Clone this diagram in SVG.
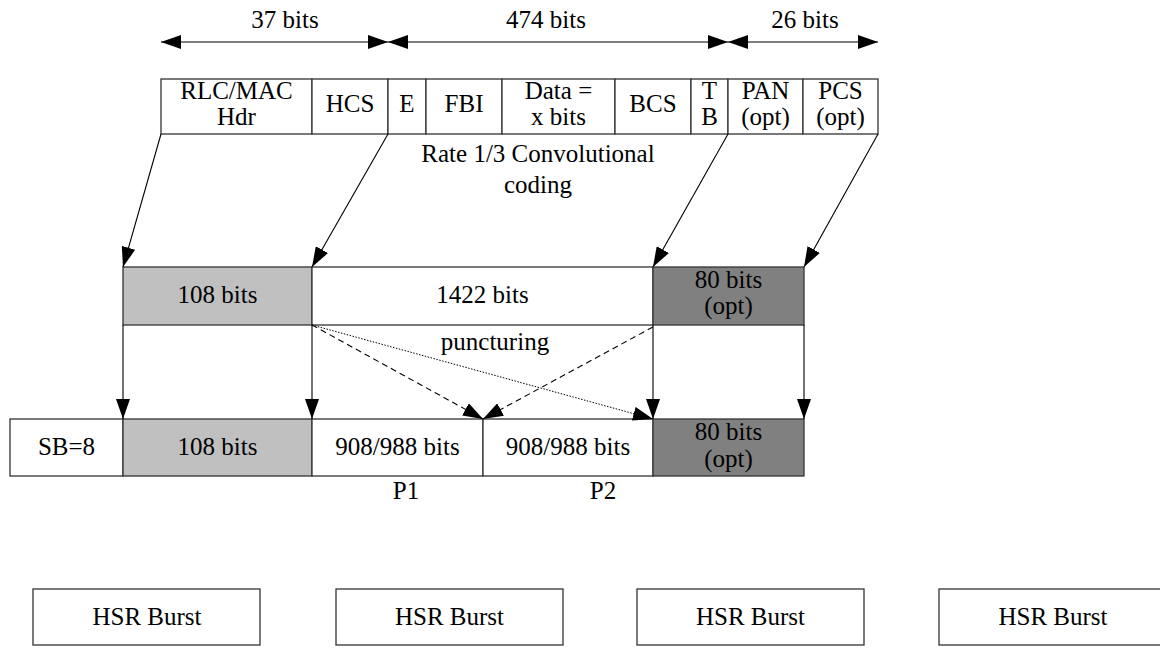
<svg xmlns="http://www.w3.org/2000/svg" width="1160" height="653" viewBox="0 0 1160 653">
<style>
text{font-family:"Liberation Serif",Tinos,"Times New Roman",Times,"Nimbus Roman","Nimbus Roman No9 L",FreeSerif,"DejaVu Serif","Noto Serif",serif;font-size:25px;fill:#000;text-anchor:middle}
.box{stroke:#333;stroke-width:1.3;fill:#fff}
.lg{fill:#c0c0c0}
.dg{fill:#808080}
.ln{stroke:#000;stroke-width:1.1;fill:none}
.dash{stroke-dasharray:6 4}
.dot{stroke-dasharray:1.5 1.5;stroke-width:1}
</style>
<defs>
<marker id="ah" markerUnits="userSpaceOnUse" markerWidth="20" markerHeight="14" refX="20" refY="7" orient="auto-start-reverse" viewBox="0 0 20 14">
<path d="M0,0 L20,7 L0,14 z" fill="#000"/>
</marker>
</defs>
<g id="dims">
<text x="285" y="28">37 bits</text>
<text x="546" y="28">474 bits</text>
<text x="805" y="28">26 bits</text>
</g>
<g id="top-row">
<rect class="box" x="161" y="79" width="151" height="55"/><text x="236.5" y="99">RLC/MAC</text><text x="236.5" y="125">Hdr</text>
<rect class="box" x="312" y="79" width="76" height="55"/><text x="350" y="112">HCS</text>
<rect class="box" x="388" y="79" width="38" height="55"/><text x="407" y="112">E</text>
<rect class="box" x="426" y="79" width="76" height="55"/><text x="464" y="112">FBI</text>
<rect class="box" x="502" y="79" width="113" height="55"/><text x="558.5" y="99">Data =</text><text x="558.5" y="125">x bits</text>
<rect class="box" x="615" y="79" width="76" height="55"/><text x="653" y="112">BCS</text>
<rect class="box" x="691" y="79" width="37" height="55"/><text x="709.5" y="99">T</text><text x="709.5" y="125">B</text>
<rect class="box" x="728" y="79" width="75" height="55"/><text x="765.5" y="99">PAN</text><text x="765.5" y="125">(opt)</text>
<rect class="box" x="803" y="79" width="75" height="55"/><text x="840.5" y="99">PCS</text><text x="840.5" y="125">(opt)</text>
</g>
<g id="coding-label">
<text x="538" y="162">Rate 1/3 Convolutional</text>
<text x="538" y="193">coding</text>
</g>
<g id="mid-row">
<rect class="box lg" x="123" y="267" width="189" height="58"/><text x="217.5" y="303">108 bits</text>
<rect class="box" x="312" y="267" width="341" height="58"/><text x="482.5" y="303">1422 bits</text>
<rect class="box dg" x="653" y="267" width="151" height="58"/><text x="728.5" y="288">80 bits</text><text x="728.5" y="314">(opt)</text>
</g>
<g id="puncturing-label"><text x="495" y="350">puncturing</text></g>
<g id="bottom-row">
<rect class="box" x="10" y="419" width="113" height="57"/><text x="66.5" y="455">SB=8</text>
<rect class="box lg" x="123" y="419" width="189" height="57"/><text x="217.5" y="455">108 bits</text>
<rect class="box" x="312" y="419" width="171" height="57"/><text x="397.5" y="455">908/988 bits</text>
<rect class="box" x="483" y="419" width="170" height="57"/><text x="568" y="455">908/988 bits</text>
<rect class="box dg" x="653" y="419" width="151" height="57"/><text x="728.5" y="440">80 bits</text><text x="728.5" y="467">(opt)</text>
</g>
<g id="parts">
<text x="406" y="499">P1</text>
<text x="603" y="499">P2</text>
</g>
<g id="bursts">
<g id="burst1"><rect class="box" x="33" y="589" width="227" height="56"/><text x="147" y="625">HSR Burst</text></g>
<g id="burst2"><rect class="box" x="336" y="589" width="227" height="56"/><text x="449.5" y="625">HSR Burst</text></g>
<g id="burst3"><rect class="box" x="637" y="589" width="227" height="56"/><text x="750.5" y="625">HSR Burst</text></g>
<g id="burst4"><rect class="box" x="939" y="589" width="227" height="56"/><text x="1053" y="625">HSR Burst</text></g>
</g>
<g id="connectors">
<line class="ln" x1="161" y1="42" x2="388" y2="42" marker-start="url(#ah)" marker-end="url(#ah)"/>
<line class="ln" x1="388" y1="42" x2="728" y2="42" marker-start="url(#ah)" marker-end="url(#ah)"/>
<line class="ln" x1="728" y1="42" x2="878" y2="42" marker-start="url(#ah)" marker-end="url(#ah)"/>
<line class="ln" x1="161" y1="134" x2="123" y2="267" marker-end="url(#ah)"/>
<line class="ln" x1="388" y1="134" x2="312" y2="267" marker-end="url(#ah)"/>
<line class="ln" x1="728" y1="134" x2="653" y2="267" marker-end="url(#ah)"/>
<line class="ln" x1="878" y1="134" x2="804" y2="267" marker-end="url(#ah)"/>
<line class="ln" x1="123" y1="325" x2="123" y2="419" marker-end="url(#ah)"/>
<line class="ln" x1="312" y1="325" x2="312" y2="419" marker-end="url(#ah)"/>
<line class="ln" x1="653" y1="325" x2="653" y2="419" marker-end="url(#ah)"/>
<line class="ln" x1="804" y1="325" x2="804" y2="419" marker-end="url(#ah)"/>
<line class="ln dash" x1="312" y1="325" x2="483" y2="419" marker-end="url(#ah)"/>
<line class="ln dash" x1="653" y1="327" x2="483" y2="419" marker-end="url(#ah)"/>
<line class="ln dot" x1="312" y1="325" x2="653" y2="419" marker-end="url(#ah)"/>
</g>
</svg>
